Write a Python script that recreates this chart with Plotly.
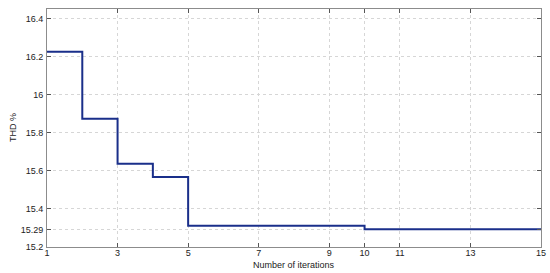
import plotly.graph_objects as go

# iterations and THD values (step plot)
iteraciones = list(range(1, 16))
thd = [16.225, 15.873, 15.637, 15.568, 15.312, 15.312, 15.312, 15.312, 15.312,
       15.293, 15.293, 15.293, 15.293, 15.293, 15.293]

x_ticks = [1, 3, 5, 7, 9, 10, 11, 13, 15]
y_ticks = [15.2, 15.29, 15.4, 15.6, 15.8, 16, 16.2, 16.4]
y_labels = ["15.2", "15.29", "15.4", "15.6", "15.8", "16", "16.2", "16.4"]

fig = go.Figure()
fig.add_trace(go.Scatter(
    x=iteraciones, y=thd, mode="lines",
    line=dict(shape="hv", color="#1a2f8a", width=2),
    showlegend=False
))

eje = dict(showline=True, linecolor="#8c8c8c", linewidth=1, mirror="ticks",
           ticks="inside", ticklen=4, tickcolor="#555555",
           showgrid=True, gridcolor="#d6d6d6", griddash="dot", gridwidth=1,
           zeroline=False, automargin=False)

fig.update_layout(
    width=550, height=273,
    margin=dict(l=47, r=9, t=9, b=26),
    paper_bgcolor="white", plot_bgcolor="white",
    font=dict(family="Liberation Sans, Arial", size=9, color="#222222"),
    xaxis=dict(eje, range=[1, 15], tickvals=x_ticks, ticklabelstandoff=-3),
    yaxis=dict(eje, range=[15.2, 16.45], tickvals=y_ticks, ticktext=y_labels,
               ticklabelstandoff=1),
)

# axis titles as annotations to keep them inside the tight margins
fig.add_annotation(text="Number of iterations", xref="paper", yref="paper",
                   x=0.5, y=0, yshift=-18, showarrow=False, yanchor="middle",
                   font=dict(size=9))
fig.add_annotation(text="THD %", xref="paper", yref="paper",
                   x=0, xshift=-34, y=0.5, showarrow=False, textangle=-90,
                   xanchor="center", font=dict(size=9))

# quitar el margen por defecto del body para que la figura ocupe toda la ventana
fig.write_html("out.html", config={"displayModeBar": False},
               post_script="document.body.style.margin='0';document.body.style.overflow='hidden';")
